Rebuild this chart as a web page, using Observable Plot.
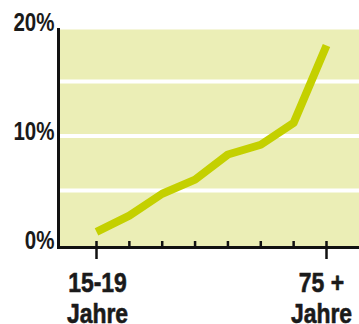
<!DOCTYPE html>
<html>
<head>
<meta charset="utf-8">
<script src="https://cdn.jsdelivr.net/npm/d3@7"></script>
<script src="https://cdn.jsdelivr.net/npm/@observablehq/plot@0.6"></script>
<style>
  html, body { margin: 0; padding: 0; background: #ffffff; }
  #chart svg { display: block; }
</style>
</head>
<body>
<div id="chart"></div>
<script>
const ageGroups = ["15-19", "20-29", "30-39", "40-49", "50-59", "60-64", "65-74", "75+"];
const shares = [1.2, 2.7, 4.7, 6.0, 8.3, 9.2, 11.2, 18.3];
const xTickLabels = ["15-19\nJahre", "", "", "", "", "", "", "75 +\nJahre"];
const yTicks = [0, 10, 20];
const yTickLabels = ["0%", "10%", "20%"];
const gridValues = [5, 10, 15];

const data = ageGroups.map((g, i) => ({group: g, idx: i, value: shares[i], label: xTickLabels[i]}));
const labeled = data.filter(d => d.label !== "");
const minor = data.filter(d => d.label === "");
const firstLabel = [labeled[0]];
const lastLabel = [labeled[labeled.length - 1]];

const textStyle = {fill: "#1a1a1a", stroke: "#1a1a1a", strokeWidth: 0.6, fontSize: 28, lineHeight: 1.1, frameAnchor: "bottom", lineAnchor: "top", dy: 23};

const chart = Plot.plot({
  width: 359,
  height: 324,
  marginLeft: 58,
  marginRight: 0,
  marginTop: 29,
  marginBottom: 77,
  style: {fontFamily: "'Liberation Sans', Arial, sans-serif", fontWeight: "bold", background: "#ffffff", color: "#1a1a1a"},
  x: {domain: [0, 7], insetLeft: 38, insetRight: 33, axis: null},
  y: {domain: [0, 20], range: [244.5, 26.5], axis: null},
  marks: [
    Plot.frame({fill: "#ebeeb6", stroke: null}),
    Plot.ruleY(gridValues, {stroke: "#ffffff", strokeWidth: 4}),
    Plot.line(data, {x: "idx", y: "value", stroke: "#c4d000", strokeWidth: 8, strokeLinecap: "butt", strokeLinejoin: "round"}),
    Plot.frame({anchor: "left", stroke: "#111111", strokeWidth: 3}),
    Plot.frame({anchor: "bottom", stroke: "#111111", strokeWidth: 3}),
    Plot.tickX(minor, {x: "idx", stroke: "#111111", strokeWidth: 2.5, insetTop: 212}),
    Plot.tickX(labeled, {x: "idx", stroke: "#111111", strokeWidth: 2.5, insetTop: 212, insetBottom: -12}),
    Plot.axisY(yTicks, {anchor: "left", label: null, tickSize: 0, tickPadding: 4, dy: -4, fontSize: 25, fill: "#1a1a1a", stroke: "#1a1a1a", strokeWidth: 0.6, tickFormat: (d, i) => yTickLabels[i]}),
    Plot.text(firstLabel, {x: "idx", text: "label", dx: 1, ...textStyle}),
    Plot.text(lastLabel, {x: "idx", text: "label", dx: -5, ...textStyle})
  ]
});

// condense the bold type horizontally to mimic the reference's condensed face
const squeeze = 0.82;
chart.querySelectorAll("text").forEach(t => {
  const tr = t.getAttribute("transform");
  if (tr) {
    t.setAttribute("transform", tr + ` scale(${squeeze},1)`);
  } else {
    const x = parseFloat(t.getAttribute("x")) || 0;
    t.setAttribute("transform", `translate(${x},0) scale(${squeeze},1) translate(${-x},0)`);
  }
});
document.getElementById("chart").appendChild(chart);
</script>
</body>
</html>
